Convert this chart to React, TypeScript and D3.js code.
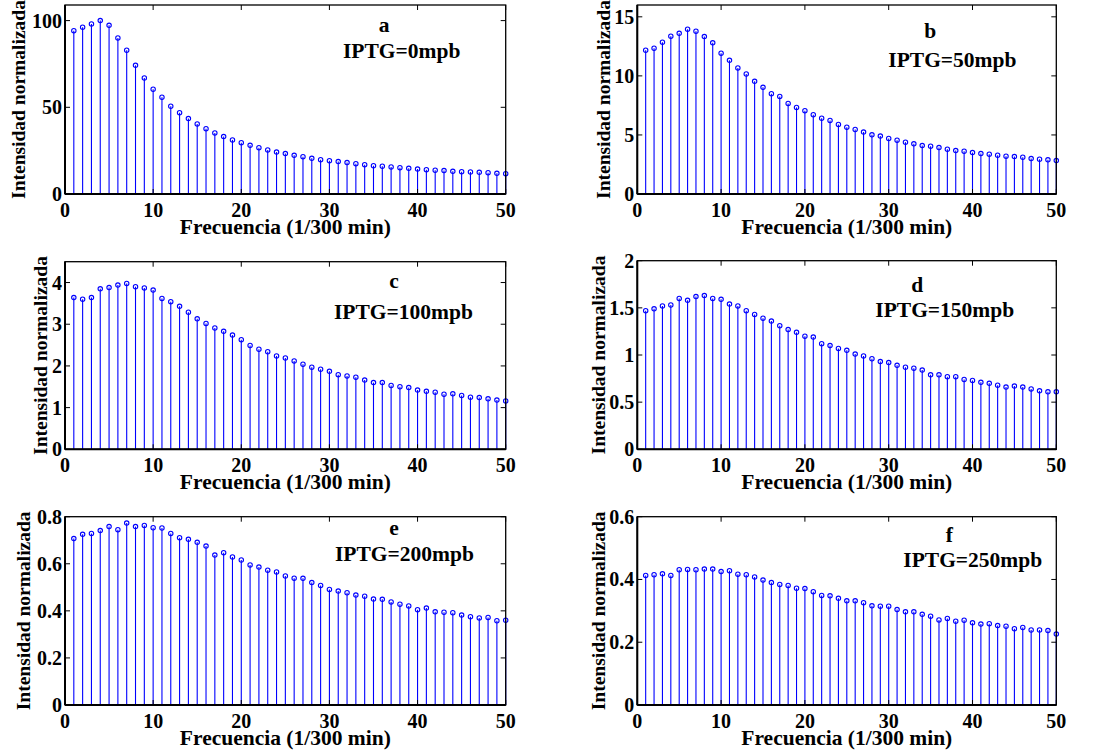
import React from "react";
import * as d3 from "d3";

const frequencies = d3.range(1, 51);

const seriesA = [94.2, 96.2, 98.1, 100, 97.3, 90, 82.9, 74.2, 66.9, 60.4, 55.8, 50.6, 46.9, 43.5, 40.4, 37.7, 35.2, 33.1, 31.2, 29.6, 28.1, 26.7, 25.4, 24.2, 23.3, 22.3, 21.5, 20.6, 19.8, 19.2, 18.7, 18.1, 17.5, 16.9, 16.3, 16.0, 15.6, 15.2, 14.8, 14.4, 14.0, 13.7, 13.5, 13.1, 12.9, 12.7, 12.5, 12.3, 11.9, 11.7];
const seriesB = [12.17, 12.34, 12.85, 13.36, 13.6, 13.95, 13.78, 13.33, 12.8, 11.92, 11.32, 10.67, 10.16, 9.54, 9.03, 8.49, 8.26, 7.67, 7.33, 7.05, 6.71, 6.42, 6.23, 5.89, 5.66, 5.46, 5.24, 5.01, 4.9, 4.7, 4.56, 4.39, 4.25, 4.1, 4.05, 3.93, 3.79, 3.68, 3.62, 3.51, 3.42, 3.37, 3.28, 3.2, 3.17, 3.11, 3.0, 2.94, 2.89, 2.83];
const seriesC = [3.64, 3.6, 3.64, 3.85, 3.88, 3.94, 3.98, 3.9, 3.87, 3.82, 3.62, 3.54, 3.43, 3.29, 3.13, 3.02, 2.91, 2.83, 2.74, 2.63, 2.49, 2.4, 2.34, 2.24, 2.19, 2.12, 2.04, 1.97, 1.92, 1.87, 1.79, 1.76, 1.73, 1.66, 1.6, 1.6, 1.53, 1.5, 1.48, 1.42, 1.39, 1.37, 1.32, 1.33, 1.29, 1.25, 1.24, 1.21, 1.18, 1.16];
const seriesD = [1.47, 1.49, 1.52, 1.53, 1.6, 1.58, 1.62, 1.63, 1.6, 1.59, 1.54, 1.52, 1.47, 1.43, 1.39, 1.36, 1.31, 1.27, 1.24, 1.2, 1.19, 1.12, 1.1, 1.07, 1.05, 1.01, 0.99, 0.96, 0.93, 0.92, 0.89, 0.87, 0.86, 0.84, 0.79, 0.79, 0.77, 0.77, 0.74, 0.73, 0.71, 0.7, 0.68, 0.66, 0.67, 0.66, 0.64, 0.62, 0.61, 0.61];
const seriesE = [0.707, 0.725, 0.729, 0.741, 0.758, 0.745, 0.773, 0.758, 0.763, 0.753, 0.752, 0.729, 0.711, 0.704, 0.691, 0.675, 0.637, 0.647, 0.629, 0.616, 0.595, 0.586, 0.573, 0.565, 0.548, 0.539, 0.538, 0.52, 0.508, 0.491, 0.484, 0.477, 0.467, 0.462, 0.45, 0.449, 0.438, 0.428, 0.421, 0.405, 0.412, 0.396, 0.394, 0.392, 0.382, 0.375, 0.37, 0.372, 0.358, 0.36];
const seriesF = [0.413, 0.415, 0.418, 0.413, 0.431, 0.432, 0.431, 0.433, 0.433, 0.425, 0.428, 0.417, 0.415, 0.408, 0.398, 0.39, 0.384, 0.381, 0.372, 0.371, 0.361, 0.349, 0.348, 0.34, 0.332, 0.332, 0.326, 0.316, 0.315, 0.315, 0.304, 0.297, 0.297, 0.289, 0.283, 0.271, 0.276, 0.267, 0.27, 0.262, 0.258, 0.259, 0.253, 0.251, 0.243, 0.247, 0.239, 0.239, 0.237, 0.226];

const xTicks = [0, 10, 20, 30, 40, 50];
const yTicksA = [0, 50, 100];
const yTicksB = [0, 5, 10, 15];
const yTicksC = [0, 1, 2, 3, 4];
const yTicksD = [0, 0.5, 1, 1.5, 2];
const yTicksE = [0, 0.2, 0.4, 0.6, 0.8];
const yTicksF = [0, 0.2, 0.4, 0.6];

const panelLetters = ["a", "b", "c", "d", "e", "f"];
const panelLabels = ["IPTG=0mpb", "IPTG=50mpb", "IPTG=100mpb", "IPTG=150mpb", "IPTG=200mpb", "IPTG=250mpb"];

const xLabel = "Frecuencia (1/300 min)";
const yLabel = "Intensidad normalizada";

const FONT = "'Liberation Serif', 'Times New Roman', serif";
const BLUE = "#0000ff";

type Panel = {
  data: number[];
  ticks: number[];
  ymax: number;
  left: number;
  right: number;
  top: number;
  bottom: number;
  letterDx: number;
  letterDy: number;
  labelDx: number;
  labelDy: number;
  yLabelX: number;
};

const panels: Panel[] = [
  { data: seriesA, ticks: yTicksA, ymax: 109, left: 65, right: 505.7, top: 5, bottom: 194, letterDx: 319, letterDy: 27, labelDx: 278, labelDy: 53, yLabelX: 25 },
  { data: seriesB, ticks: yTicksB, ymax: 16, left: 637.3, right: 1056.3, top: 5, bottom: 194, letterDx: 293, letterDy: 33, labelDx: 251, labelDy: 62, yLabelX: 610 },
  { data: seriesC, ticks: yTicksC, ymax: 4.5, left: 65, right: 505.7, top: 261.7, bottom: 449.3, letterDx: 329, letterDy: 26, labelDx: 269, labelDy: 57, yLabelX: 47 },
  { data: seriesD, ticks: yTicksD, ymax: 2, left: 637.3, right: 1056.3, top: 260.7, bottom: 449.3, letterDx: 280, letterDy: 31, labelDx: 238, labelDy: 56, yLabelX: 605 },
  { data: seriesE, ticks: yTicksE, ymax: 0.8, left: 65, right: 505.7, top: 516.7, bottom: 705, letterDx: 329, letterDy: 18, labelDx: 270, labelDy: 44, yLabelX: 30 },
  { data: seriesF, ticks: yTicksF, ymax: 0.6, left: 637.3, right: 1056.3, top: 516.7, bottom: 705, letterDx: 312, letterDy: 25, labelDx: 266, labelDy: 50, yLabelX: 605 },
];

function StemPanel({ p, idx }: { p: Panel; idx: number }) {
  const x = d3.scaleLinear().domain([0, 50]).range([p.left, p.right]);
  const y = d3.scaleLinear().domain([0, p.ymax]).range([p.bottom, p.top]);
  const tickLen = 5;
  const cy = (p.top + p.bottom) / 2;
  const cx = (p.left + p.right) / 2;
  return (
    <g>
      {p.data.map((v, i) => (
        <line key={"s" + i} x1={x(frequencies[i])} x2={x(frequencies[i])} y1={y(0)} y2={y(v)} stroke={BLUE} strokeWidth={1.1} />
      ))}
      {p.data.map((v, i) => (
        <circle key={"m" + i} cx={x(frequencies[i])} cy={y(v)} r={2.2} fill="none" stroke={BLUE} strokeWidth={1.1} />
      ))}
      <rect x={p.left} y={p.top} width={p.right - p.left} height={p.bottom - p.top} fill="none" stroke="#000" strokeWidth={1.3} />
      <line x1={p.left} x2={p.right} y1={p.bottom} y2={p.bottom} stroke="#000" strokeWidth={2} />
      <line x1={p.left} x2={p.left} y1={p.top} y2={p.bottom} stroke="#000" strokeWidth={2} />
      {xTicks.map((t) => (
        <g key={"xt" + t}>
          <line x1={x(t)} x2={x(t)} y1={p.bottom} y2={p.bottom - tickLen} stroke="#000" strokeWidth={1} />
          <line x1={x(t)} x2={x(t)} y1={p.top} y2={p.top + tickLen} stroke="#000" strokeWidth={1} />
          <text x={x(t)} y={p.bottom + 23} textAnchor="middle" fontFamily={FONT} fontWeight="bold" fontSize={20}>{t}</text>
        </g>
      ))}
      {p.ticks.map((t) => (
        <g key={"yt" + t}>
          <line x1={p.left} x2={p.left + tickLen} y1={y(t)} y2={y(t)} stroke="#000" strokeWidth={1} />
          <line x1={p.right} x2={p.right - tickLen} y1={y(t)} y2={y(t)} stroke="#000" strokeWidth={1} />
          <text x={p.left - 3} y={y(t) + 7} textAnchor="end" fontFamily={FONT} fontWeight="bold" fontSize={20}>{String(t)}</text>
        </g>
      ))}
      <text x={cx} y={p.bottom + 40} textAnchor="middle" fontFamily={FONT} fontWeight="bold" fontSize={21.5}>{xLabel}</text>
      <text transform={`translate(${p.yLabelX},${cy}) rotate(-90)`} textAnchor="middle" fontFamily={FONT} fontWeight="bold" fontSize={19.5}>{yLabel}</text>
      <text x={p.left + p.letterDx} y={p.top + p.letterDy} textAnchor="middle" fontFamily={FONT} fontWeight="bold" fontSize={21.5}>{panelLetters[idx]}</text>
      <text x={p.left + p.labelDx} y={p.top + p.labelDy} textAnchor="start" fontFamily={FONT} fontWeight="bold" fontSize={21.5}>{panelLabels[idx]}</text>
    </g>
  );
}

export default function App() {
  return (
    <svg width={1100} height={755} style={{ position: "absolute", left: 0, top: 0, background: "#fff" }}>
      <rect x={0} y={0} width={1100} height={755} fill="#fff" />
      {panels.map((p, i) => (
        <StemPanel key={i} p={p} idx={i} />
      ))}
    </svg>
  );
}
